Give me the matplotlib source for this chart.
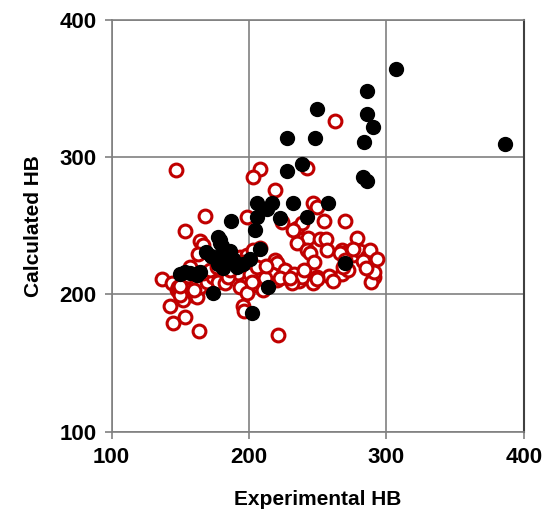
import matplotlib
matplotlib.use('Agg')
import matplotlib.pyplot as plt

# Data
black_x = [306.9, 285.5, 249.1, 285.5, 289.9, 227.8, 247.9, 283.6, 386.2, 238.2,
           227.8, 283.1, 285.5, 206.0, 216.4, 231.7, 257.1, 212.8, 205.5, 222.5,
           241.9, 186.8, 204.2, 177.6, 178.8, 207.9, 169.0, 181.2, 200.6, 183.6,
           177.6, 195.8, 269.8, 190.9, 181.2, 149.7, 157.0, 164.3, 161.8, 214.0,
           174.0, 201.8, 180.0, 184.0, 186.0, 176.0, 179.0, 188.0, 172.0, 153.0]
black_y = [364.0, 348.5, 334.9, 331.5, 321.8, 313.8, 313.8, 311.3, 309.4, 295.1,
           290.2, 285.3, 282.9, 266.9, 266.9, 266.4, 266.4, 262.0, 256.7, 255.5,
           256.2, 253.7, 247.0, 242.1, 237.3, 232.9, 231.2, 230.0, 225.6, 223.9,
           222.2, 222.2, 222.7, 220.3, 219.0, 214.7, 215.4, 216.6, 214.2, 205.2,
           201.3, 186.7, 235.0, 228.0, 232.0, 226.0, 240.0, 226.0, 228.0, 216.0]

red_x = [146.8, 207.9, 202.6, 241.9, 262.5, 218.8, 246.7, 249.6, 254.5, 269.8,
         167.9, 198.2, 223.7, 234.6, 238.2, 231.7, 153.3, 243.1, 251.5, 255.9,
         235.1, 256.4, 241.9, 278.2, 244.5, 246.9, 207.7, 164.3, 166.7, 163.1,
         267.3, 271.0, 275.8, 280.6, 285.5, 287.9, 292.8, 283.1, 267.3, 272.2,
         289.9, 291.1, 288.7, 258.3, 249.1, 246.7, 235.1, 236.3, 226.5, 221.6,
         219.1, 211.8, 207.9, 205.5, 215.2, 220.1, 210.3, 205.5, 198.2, 192.1,
         193.3, 198.2, 195.8, 221.2, 136.4, 143.7, 147.3, 151.0, 155.8, 154.6,
         158.2, 161.8, 164.3, 169.1, 174.0, 177.6, 182.5, 184.9, 166.7, 171.5,
         176.4, 142.4, 152.1, 153.3, 144.8, 163.3, 148.5, 149.7, 183.6, 193.3,
         198.2, 203.0, 195.8, 220.4, 226.5, 232.5, 238.5, 216.7, 200.6, 205.5,
         211.6, 222.5, 230.9, 266.1, 275.8, 249.1, 268.5, 291.0, 269.8, 202.0,
         240.0, 212.0, 157.0, 160.0, 186.0, 230.0, 285.0, 261.0, 196.0, 150.0]
red_y = [290.7, 291.2, 285.3, 292.5, 326.6, 276.1, 266.4, 264.0, 253.8, 253.8,
         257.2, 256.2, 253.1, 248.3, 251.9, 247.0, 246.5, 240.9, 240.2, 240.2,
         237.3, 232.4, 232.4, 240.9, 230.0, 223.9, 233.6, 238.9, 236.0, 229.6,
         232.4, 231.2, 228.8, 232.0, 227.6, 232.4, 225.6, 224.7, 215.2, 217.6,
         215.2, 212.9, 209.3, 213.5, 213.0, 208.6, 214.2, 209.8, 213.0, 220.3,
         225.1, 217.6, 211.7, 206.9, 209.3, 210.5, 203.3, 214.7, 213.5, 215.4,
         205.7, 200.7, 191.9, 170.5, 211.0, 208.1, 203.3, 209.3, 213.5, 203.3,
         199.6, 198.4, 205.7, 209.3, 213.0, 209.3, 208.1, 213.0, 215.4, 217.8,
         220.3, 191.8, 196.0, 183.8, 178.9, 173.6, 205.7, 199.6, 227.0, 227.6,
         228.8, 232.4, 223.6, 223.2, 217.6, 215.2, 212.7, 215.2, 215.2, 220.3,
         211.7, 211.7, 208.1, 230.0, 233.0, 211.0, 220.3, 216.4, 225.0, 209.3,
         218.0, 221.0, 220.0, 203.0, 218.0, 212.0, 219.0, 210.0, 188.0, 206.0]

plt.rcParams['font.family'] = ['Liberation Sans', 'DejaVu Sans']

fig = plt.figure(figsize=(5.44, 5.09), dpi=100)
ax = fig.add_axes([0.2053, 0.152, 0.7577, 0.8087])

ax.scatter(red_x, red_y, s=85, facecolors='white', edgecolors='#c00000',
           linewidths=2.2, zorder=3)
ax.scatter(black_x, black_y, s=100, c='black', edgecolors='black', zorder=4)

ax.set_xlim(100, 400)
ax.set_ylim(100, 400)
ax.set_xticks([100, 200, 300, 400])
ax.set_yticks([100, 200, 300, 400])
ax.grid(True, color='#808080', linewidth=1.2, zorder=0)
ax.set_axisbelow(True)
for side in ['left', 'bottom', 'top']:
    ax.spines[side].set_color('#808080')
    ax.spines[side].set_linewidth(1.2)
ax.spines['right'].set_color('#404040')
ax.spines['right'].set_linewidth(1.5)
ax.tick_params(direction='out', length=5, color='#808080', width=1.2,
               labelsize=16, pad=6)
for lbl in ax.get_xticklabels() + ax.get_yticklabels():
    lbl.set_fontweight('bold')

ax.set_xlabel('Experimental HB', fontsize=15, fontweight='bold', labelpad=16)
ax.set_ylabel('Calculated HB', fontsize=15, fontweight='bold', labelpad=12)

fig.savefig('out.png', dpi=100)
